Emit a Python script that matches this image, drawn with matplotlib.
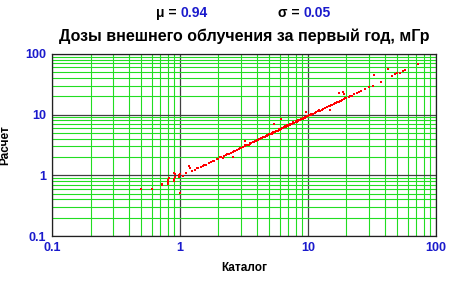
import numpy as np
import matplotlib.pyplot as plt
from matplotlib.ticker import LogLocator, FixedLocator, FixedFormatter, NullFormatter

plt.rcParams['font.family'] = ['Liberation Sans', 'DejaVu Sans']

# catalog vs calculated doses (mGy)
catalog = [0.50, 0.60, 0.72, 0.73, 0.81, 0.81, 0.81, 0.82, 0.90, 0.90, 0.91, 0.91,
           0.90, 0.99, 0.99, 1.00, 1.00, 1.05, 1.12, 1.18, 1.20, 1.25, 1.30, 1.38,
           1.45, 1.50, 1.60, 1.68, 1.75, 1.85, 1.95, 2.00, 2.10, 2.20, 2.30, 2.40,
           2.50, 2.60, 2.60, 2.70, 2.80, 2.90, 3.00, 3.10, 3.20, 3.20, 3.30, 3.40,
           3.50, 3.60, 3.70, 3.80, 3.90, 4.00, 4.10, 4.20, 4.30, 4.40, 4.50, 4.60,
           4.70, 4.80, 4.90, 5.00, 5.10, 5.20, 5.30, 5.40, 5.50, 5.60, 5.70, 5.80,
           5.90, 6.00, 6.20, 6.20, 6.30, 6.40, 6.50, 6.70, 6.80, 7.00, 7.10, 7.20,
           7.40, 7.50, 7.60, 7.80, 8.00, 8.10, 8.20, 8.40, 8.50, 8.70, 8.80, 9.00,
           9.20, 9.40, 9.50, 9.60, 9.70, 9.90, 10.0, 10.3, 10.6, 11.0, 11.3, 11.6,
           12.0, 12.4, 12.8, 13.2, 13.6, 14.0, 14.5, 14.9, 15.0, 15.5, 16.0, 16.5,
           17.0, 17.4, 17.5, 18.0, 18.5, 18.8, 19.0, 19.0, 20.0, 21.0, 22.0, 23.0,
           24.0, 25.0, 26.0, 28.0, 30.0, 32.0, 33.0, 37.0, 42.0, 45.0, 48.0, 50.0,
           52.0, 55.0, 57.0, 73.0,
           1.35, 1.55, 1.80, 2.05, 2.35, 2.65, 2.95, 3.25, 3.55, 3.85, 4.15, 4.45,
           4.75, 5.05, 5.35, 5.65, 5.95, 6.25, 6.60, 6.90, 7.30, 7.70, 8.30, 8.60,
           8.90, 9.10, 9.30, 9.80, 10.1, 10.5, 10.9, 11.5, 12.2, 13.0, 14.2, 15.2,
           16.2, 17.8, 19.5, 21.5, 2.15, 3.45, 4.25, 5.25, 6.10, 7.25, 8.15, 9.45]
calc = [0.59, 0.60, 0.72, 0.68, 0.72, 0.78, 0.85, 0.90, 0.80, 0.88, 0.95, 1.05,
        1.10, 0.93, 1.00, 1.05, 0.52, 0.98, 1.08, 1.42, 1.30, 1.18, 1.22, 1.30,
        1.36, 1.40, 1.50, 1.58, 1.64, 1.74, 1.83, 1.88, 1.98, 2.06, 2.16, 2.25,
        2.36, 2.00, 2.45, 2.54, 2.63, 2.72, 2.82, 2.90, 3.67, 3.00, 3.10, 3.20,
        3.30, 3.38, 3.50, 3.57, 3.66, 3.76, 3.85, 3.95, 4.05, 4.14, 4.25, 4.30,
        4.40, 4.50, 4.60, 4.70, 4.80, 4.90, 5.00, 7.10, 5.15, 5.30, 5.35, 5.45,
        5.55, 5.65, 8.30, 5.80, 6.00, 6.00, 6.15, 6.30, 6.40, 6.55, 6.70, 6.80,
        6.95, 7.05, 7.20, 7.30, 7.50, 7.70, 7.60, 7.90, 8.00, 8.20, 8.30, 8.45,
        8.60, 8.85, 9.00, 11.0, 9.10, 9.30, 9.40, 9.70, 9.90, 10.3, 10.6, 10.9,
        11.3, 11.6, 12.0, 12.4, 12.8, 13.2, 13.6, 11.8, 14.1, 14.5, 15.0, 15.5,
        16.0, 23.0, 16.4, 17.0, 17.4, 23.6, 21.6, 17.8, 18.6, 19.7, 20.5, 21.5,
        22.5, 23.5, 24.5, 26.0, 28.0, 30.0, 44.6, 34.6, 57.0, 44.0, 46.0, 48.0,
        49.0, 52.0, 54.0, 69.0,
        1.32, 1.50, 1.72, 1.98, 2.26, 2.55, 2.84, 3.12, 3.42, 3.70, 3.98, 4.26,
        4.55, 4.86, 5.18, 5.45, 5.75, 6.02, 6.38, 6.62, 7.00, 7.42, 8.00, 8.22,
        8.50, 8.80, 8.95, 9.45, 9.70, 10.1, 10.4, 11.0, 11.7, 12.4, 13.5, 14.4,
        15.4, 16.9, 18.5, 20.3, 1.95, 3.15, 3.90, 4.85, 5.60, 6.70, 7.50, 8.70]

tick_vals = [0.1, 1, 10, 100]
tick_text = ['0.1', '1', '10', '100']
mu_text = '0.94'
sigma_text = '0.05'

blue = '#1a1acc'

fig = plt.figure(figsize=(4.56, 2.82), dpi=100)
ax = fig.add_axes([0.114, 0.163, 0.842, 0.646])
ax.set_xscale('log')
ax.set_yscale('log')
ax.set_xlim(0.1, 100)
ax.set_ylim(0.1, 100)

ax.xaxis.set_major_locator(FixedLocator(tick_vals))
ax.yaxis.set_major_locator(FixedLocator(tick_vals))
ax.xaxis.set_major_formatter(FixedFormatter(tick_text))
ax.yaxis.set_major_formatter(FixedFormatter(tick_text))
ax.xaxis.set_minor_locator(LogLocator(base=10, subs=np.arange(2, 10)))
ax.yaxis.set_minor_locator(LogLocator(base=10, subs=np.arange(2, 10)))
ax.xaxis.set_minor_formatter(NullFormatter())
ax.yaxis.set_minor_formatter(NullFormatter())

ax.grid(True, which='minor', color='#22dd22', lw=0.8)
ax.grid(True, which='major', color='#404040', lw=0.9)
ax.set_axisbelow(True)
ax.tick_params(which='both', length=0, labelsize=9, labelcolor=blue, pad=4)
for lab in ax.get_xticklabels() + ax.get_yticklabels():
    lab.set_fontweight('bold')
for sp in ax.spines.values():
    sp.set_color('#202020')
    sp.set_linewidth(0.9)

ax.scatter(catalog, calc, s=4, color='red', marker='s', linewidths=0, zorder=3)

ax.set_title('Дозы внешнего облучения за первый год, мГр', fontsize=11.5,
             fontweight='bold', pad=9)
ax.set_xlabel('Каталог', fontsize=8.5, fontweight='bold', labelpad=6)
ax.set_ylabel('Расчет', fontsize=8.5, fontweight='bold', labelpad=10)

fig.text(0.395, 0.955, 'μ = ', fontsize=10, fontweight='bold', ha='right', va='center')
fig.text(0.395, 0.955, mu_text, fontsize=10, fontweight='bold', color=blue, ha='left', va='center')
fig.text(0.665, 0.955, 'σ = ', fontsize=10, fontweight='bold', ha='right', va='center')
fig.text(0.665, 0.955, sigma_text, fontsize=10, fontweight='bold', color=blue, ha='left', va='center')

fig.savefig('out.png', dpi=100)
